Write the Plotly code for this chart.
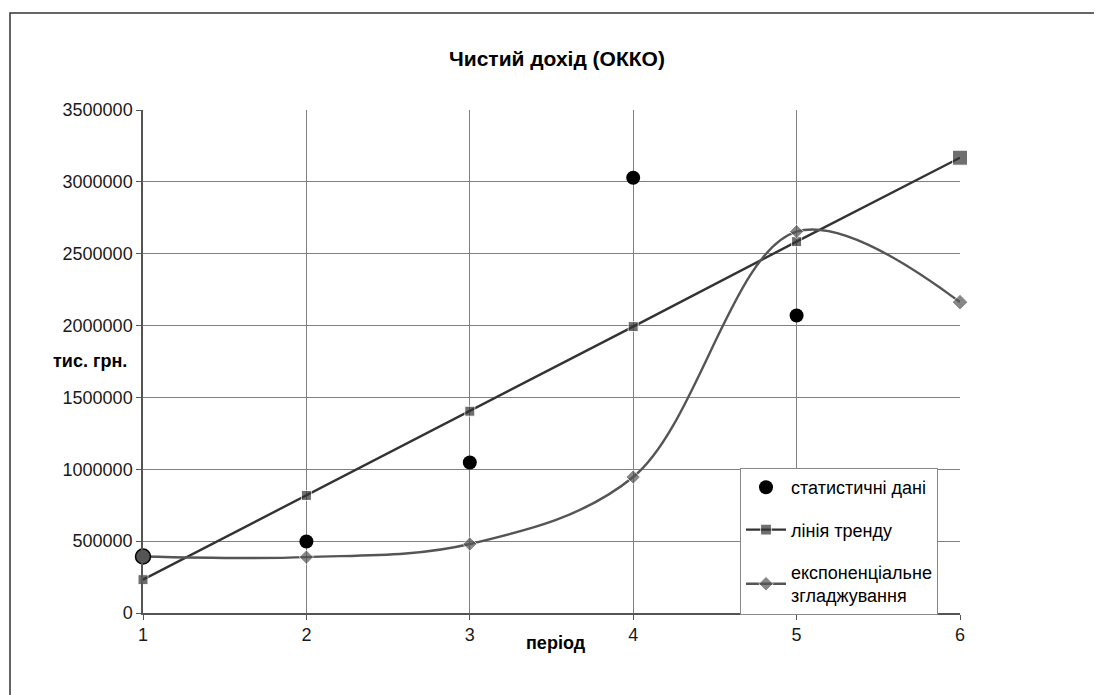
import plotly.graph_objects as go

periods = [1, 2, 3, 4, 5, 6]
stat_periods = [1, 2, 3, 4, 5]
stat_values = [393000, 498000, 1047000, 3029000, 2070000]
trend_values = [232000, 818000, 1404000, 1993000, 2584000, 3168000]
smooth_values = [393000, 389000, 480000, 946000, 2654000, 2163000]

y_ticks = [0, 500000, 1000000, 1500000, 2000000, 2500000, 3000000, 3500000]
title_text = "Чистий дохід (ОККО)"
x_label = "період"
y_label = "тис. грн."
names = ["статистичні дані", "лінія тренду", "експоненціальне<br>згладжування"]

FONT = "Liberation Sans, Arial, sans-serif"

# page offset (browser body margin) compensation
OFF = 8
L, T = 143 - OFF, 110 - OFF
PW, PH = 817, 503
W, H = 1102, 695

def px(xpix):
    return (xpix - 143) / PW

def py(ypix):
    return (613 - ypix) / PH

fig = go.Figure()

fig.add_trace(go.Scatter(
    x=stat_periods, y=stat_values, mode="markers", name=names[0],
    legendgroup="a", cliponaxis=False,
    marker=dict(symbol="circle", size=14, color="#000000"),
))
fig.add_trace(go.Scatter(
    x=periods, y=trend_values, mode="lines+markers", name=names[1],
    legendgroup="b", cliponaxis=False,
    line=dict(color="#333333", width=2.4),
    marker=dict(symbol="square", size=[10, 10, 10, 10, 10, 15], color="#333333"),
))
fig.add_trace(go.Scatter(
    x=periods, y=smooth_values, mode="lines+markers", name=names[2],
    legendgroup="c", cliponaxis=False,
    line=dict(color="#555555", width=2.4, shape="spline", smoothing=1.0),
    marker=dict(symbol="diamond", size=[11, 11, 11, 11, 11, 12], color="#555555"),
))
# overlapping first point (statistical value and smoothed value coincide)
fig.add_trace(go.Scatter(
    x=[stat_periods[0]], y=[stat_values[0]], mode="markers", showlegend=False,
    cliponaxis=False,
    marker=dict(symbol="circle", size=15, color="#555555",
                line=dict(color="#000000", width=1.5)),
))

fig.update_layout(
    width=W, height=H,
    margin=dict(l=L, r=W - L - PW, t=T, b=H - T - PH),
    paper_bgcolor="white", plot_bgcolor="white",
    font=dict(family=FONT, size=18, color="#1a1a1a"),
    showlegend=True,
    legend=dict(
        x=px(740), y=py(468), xanchor="left", yanchor="top",
        bgcolor="white", bordercolor="#888888", borderwidth=1,
        font=dict(family=FONT, size=18, color="#000000"),
        tracegroupgap=16, traceorder="grouped",
        itemwidth=40,
    ),
    annotations=[
        dict(text="<b>" + title_text + "</b>", xref="paper", yref="paper",
             x=px(557), y=py(58), xanchor="center", yanchor="middle",
             showarrow=False, font=dict(family=FONT, size=21, color="#000000")),
        dict(text="<b>" + y_label + "</b>", xref="paper", yref="paper",
             x=px(129), y=py(361), xanchor="right", yanchor="middle",
             showarrow=False, font=dict(family=FONT, size=18, color="#000000")),
        dict(text="<b>" + x_label + "</b>", xref="paper", yref="paper",
             x=px(556), y=py(643), xanchor="center", yanchor="middle",
             showarrow=False, font=dict(family=FONT, size=18, color="#000000")),
    ],
    shapes=[
        dict(type="rect", xref="paper", yref="paper",
             x0=px(10), x1=px(1120), y0=py(720), y1=py(13),
             line=dict(color="#333333", width=1.5), layer="below"),
    ],
)

fig.update_xaxes(
    range=[1, 6], tickvals=periods, ticktext=[str(p) for p in periods],
    showgrid=True, gridcolor="#808080", gridwidth=1,
    showline=True, linecolor="#555555", linewidth=1.5, mirror=False,
    ticks="outside", ticklen=5, tickcolor="#555555",
    zeroline=False, tickfont=dict(size=18, color="#1a1a1a"),
)
fig.update_yaxes(
    range=[0, 3500000], tickvals=y_ticks, ticktext=[str(v) for v in y_ticks],
    showgrid=True, gridcolor="#808080", gridwidth=1,
    showline=True, linecolor="#555555", linewidth=1.5,
    ticks="outside", ticklen=5, tickcolor="#555555",
    zeroline=False, tickfont=dict(size=18, color="#1a1a1a"),
)

fig.write_html("out.html")
